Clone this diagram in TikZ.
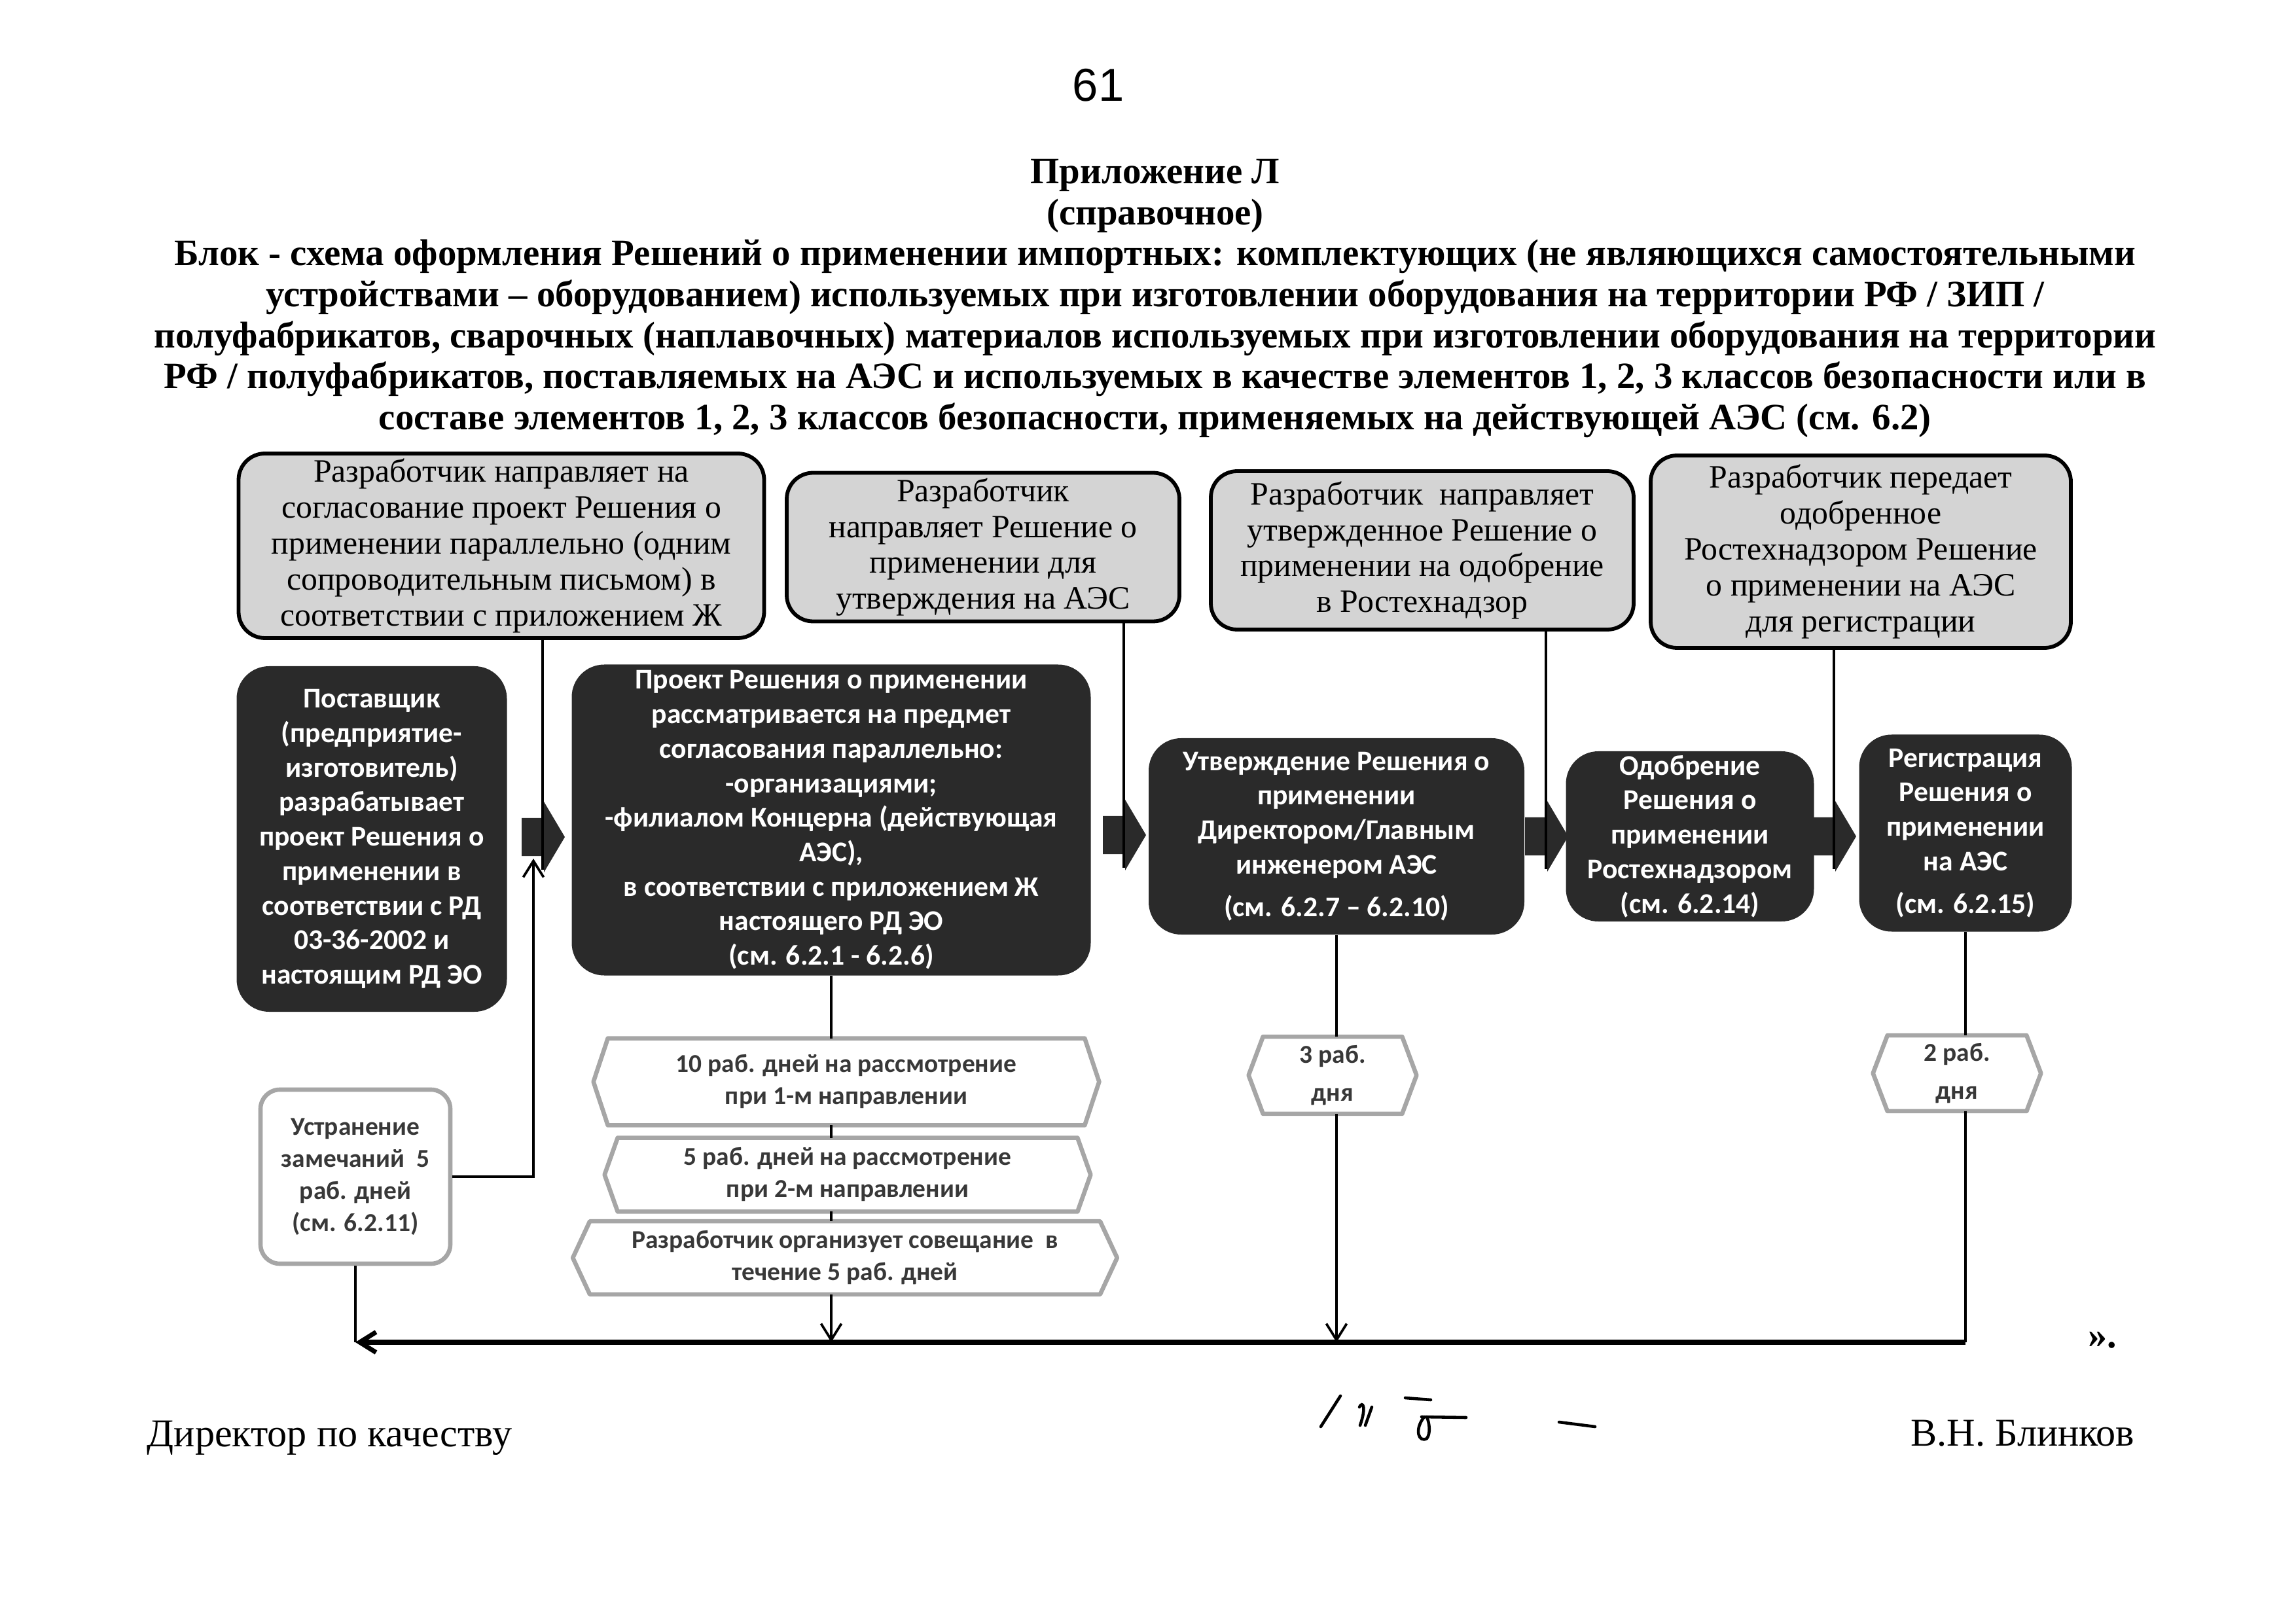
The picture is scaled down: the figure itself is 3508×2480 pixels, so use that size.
\documentclass[tikz,border=0pt]{standalone}
\usepackage{fontspec}
\setmainfont{Liberation Serif}
\newfontfamily\carl{Carlito}
\newfontfamily\hand{Liberation Sans}
\usetikzlibrary{arrows.meta,calc}

\definecolor{topfill}{HTML}{D4D4D4}
\definecolor{darkfill}{HTML}{2A2A2A}
\definecolor{hexline}{HTML}{A6A6A6}
\definecolor{hextext}{HTML}{383838}

\newcommand{\hexframe}[2]{%
  \draw[hexline, line width=1.6pt, line join=round, fill=white]
    ($(#1.north west)+(#2,0)$) -- ($(#1.north east)-(#2,0)$) -- (#1.east) --
    ($(#1.south east)-(#2,0)$) -- ($(#1.south west)+(#2,0)$) -- (#1.west) -- cycle;}
\newcommand{\blkarrow}[3]{%
  \coordinate (#1) at (#2,#3);
  \fill[darkfill] ($(#1)+(-32,-29)$) -- ($(#1)+(2,-29)$) -- ($(#1)+(2,-54)$) --
    ($(#1)+(34,0)$) -- ($(#1)+(2,54)$) -- ($(#1)+(2,29)$) -- ($(#1)+(-32,29)$) -- cycle;}

\begin{document}
\begin{tikzpicture}[x=0.084664mm,y=-0.084664mm,
  sz/.style 2 args={minimum width=#1*0.084664mm, minimum height=#2*0.084664mm},
  topbox/.style={draw=black, line width=1.4pt, fill=topfill, rounded corners=3.4mm,
    align=center, inner sep=0pt, font=\fontsize{12}{13.2}\selectfont},
  darkbox/.style={fill=darkfill, rounded corners=4.2mm, align=center, text=white,
    inner sep=0pt, font=\carl\bfseries\fontsize{10.5}{12.7}\selectfont},
  hexbox/.style={inner sep=0pt, align=center, text=hextext,
    font=\carl\bfseries\fontsize{9.5}{11.8}\selectfont},
  conn/.style={line width=0.9pt},
  tip/.style={-{Straight Barb[length=6pt,width=7.5pt]}},
  plain/.style={inner sep=0pt, align=center},
]
\useasboundingbox (0,0) rectangle (3508,2480);

% header
\node[plain, font=\hand\fontsize{17}{18}\selectfont] (pnum) at (1678,130) {61};
\node[plain, font=\bfseries\fontsize{13.7}{15.1}\selectfont] (title) at (1765,456)
  {Приложение Л\\
   (справочное)\\
   Блок - схема оформления Решений о применении импортных: комплектующих (не являющихся самостоятельными\\
   устройствами – оборудованием) используемых при изготовлении оборудования на территории РФ / ЗИП /\\
   полуфабрикатов, сварочных (наплавочных) материалов используемых при изготовлении оборудования на территории\\
   РФ / полуфабрикатов, поставляемых на АЭС и используемых в качестве элементов 1, 2, 3 классов безопасности или в\\
   составе элементов 1, 2, 3 классов безопасности, применяемых на действующей АЭС (см. 6.2)};

% top boxes
\node[topbox, sz={803}{282}] (t1) at (766,834)
  {Разработчик направляет на\\согласование проект Решения о\\применении параллельно (одним\\сопроводительным письмом) в\\соответствии с приложением Ж};
\node[topbox, sz={600}{227}] (t2) at (1502,836)
  {Разработчик\\направляет Решение о\\применении для\\утверждения на АЭС};
\node[topbox, sz={646}{242}] (t3) at (2173,841)
  {Разработчик \ направляет\\утвержденное Решение о\\применении на одобрение\\в Ростехнадзор};
\node[topbox, sz={642}{294}] (t4) at (2843,843)
  {Разработчик передает\\одобренное\\Ростехнадзором Решение\\о применении на АЭС\\для регистрации};

% dark boxes
\node[darkbox, sz={413}{528}] (d1) at (568,1282)
  {Поставщик\\(предприятие-\\изготовитель)\\разрабатывает\\проект Решения о\\применении в\\соответствии с РД\\03-36-2002 и\\настоящим РД ЭО};
\node[darkbox, sz={793}{475}] (d2) at (1270,1253)
  {Проект Решения о применении\\рассматривается на предмет\\согласования параллельно:\\-организациями;\\-филиалом Концерна (действующая\\АЭС),\\в соответствии с приложением Ж\\настоящего РД ЭО\\(см. 6.2.1 - 6.2.6)};
\node[darkbox, sz={574}{300}] (d3) at (2042,1278)
  {Утверждение Решения о\\применении\\Директором/Главным\\инженером АЭС\\[3pt](см. 6.2.7 – 6.2.10)};
\node[darkbox, sz={379}{260}] (d4) at (2582,1278)
  {Одобрение\\Решения о\\применении\\Ростехнадзором\\(см. 6.2.14)};
\node[darkbox, sz={325}{301}] (d5) at (3003,1273)
  {Регистрация\\Решения о\\применении\\на АЭС\\[3pt](см. 6.2.15)};

% block arrows
\blkarrow{a1}{829}{1279}
\blkarrow{a2}{1717}{1276}
\blkarrow{a3}{2362}{1278}
\blkarrow{a4}{2802}{1278}

% hex boxes (frames first)
\coordinate (h1c) at (1293,1653);
\coordinate (h2c) at (1295,1795);
\coordinate (h3c) at (1291,1922);
\node[hexbox, sz={771}{131}] (h1) at (h1c) {};
\node[hexbox, sz={741}{111}] (h2) at (h2c) {};
\node[hexbox, sz={830}{110}] (h3) at (h3c) {};
\node[hexbox, sz={255}{116}] (s1) at (2036,1643) {};
\node[hexbox, sz={255}{114}] (s2) at (2990,1640) {};
\hexframe{h1}{22}
\hexframe{h2}{20}
\hexframe{h3}{26}
\hexframe{s1}{22}
\hexframe{s2}{22}
\node[hexbox] (h1t) at (h1c) {10 раб. дней на рассмотрение\\при 1-м направлении};
\node[hexbox] (h2t) at (h2c) {5 раб. дней на рассмотрение\\при 2-м направлении};
\node[hexbox] (h3t) at (h3c) {Разработчик организует совещание \ в\\течение 5 раб. дней};
\node[hexbox] (s1t) at (s1) {3 раб.\\[2pt]дня};
\node[hexbox] (s2t) at (s2) {2 раб.\\[2pt]дня};

\node[hexbox, draw=hexline, line width=1.6pt, rounded corners=2.5mm, fill=white, sz={290}{266}] (u) at (543,1798)
  {Устранение\\замечаний \ 5\\раб. дней\\(см. 6.2.11)};

% connectors top -> arrows
\draw[conn] (t1.south -| a1) -- ($(a1)+(0,50)$);
\draw[conn] (t2.south -| a2) -- ($(a2)+(0,50)$);
\draw[conn] (t3.south -| a3) -- ($(a3)+(0,50)$);
\draw[conn] (t4.south -| a4) -- ($(a4)+(0,50)$);

% lower chain
\coordinate (br) at (3003,2051);
\coordinate (bl) at (u.south |- br);
\draw[conn] (d2.south) -- (d2.south |- h1.north);
\draw[conn] (d2.south |- h1.south) -- (d2.south |- h2.north);
\draw[conn] (d2.south |- h2.south) -- (d2.south |- h3.north);
\draw[conn,tip] (d2.south |- h3.south) -- (d2.south |- br);
\draw[conn] (d3.south) -- (d3.south |- s1.north);
\draw[conn,tip] (d3.south |- s1.south) -- (d3.south |- br);
\draw[conn] (d5.south) -- (d5.south |- s2.north);
\draw[conn] (d5.south |- s2.south) -- (br);
\draw[line width=1.7pt,tip] (br) -- (bl);
\draw[conn] (u.south) -- (bl);
\draw[conn,tip] (u.east) -| ($(a1)+(-14,33)$);

% footer
\node[plain, font=\bfseries\fontsize{14}{15}\selectfont] (quote) at (3212,2048) {».};
\node[plain, anchor=west, font=\fontsize{14.5}{16}\selectfont] (dir) at (224,2197) {Директор по качеству};
\node[plain, anchor=east, font=\fontsize{14.5}{16}\selectfont] (name) at (3262,2190) {В.Н. Блинков};

% signature strokes
\begin{scope}[line width=1.1pt, line cap=round]
\draw (2048,2133) -- (2018,2180);
\draw (2077,2150) .. controls (2082,2140) and (2088,2150) .. (2078,2178);
\draw (2096,2150) -- (2086,2178);
\draw (2147,2136) -- (2186,2139);
\draw (2172,2165) -- (2240,2166);
\draw (2176,2165) .. controls (2160,2185) and (2168,2205) .. (2180,2198) .. controls (2186,2190) and (2184,2175) .. (2180,2165);
\draw (2382,2173) -- (2437,2180);
\end{scope}
\end{tikzpicture}
\end{document}
